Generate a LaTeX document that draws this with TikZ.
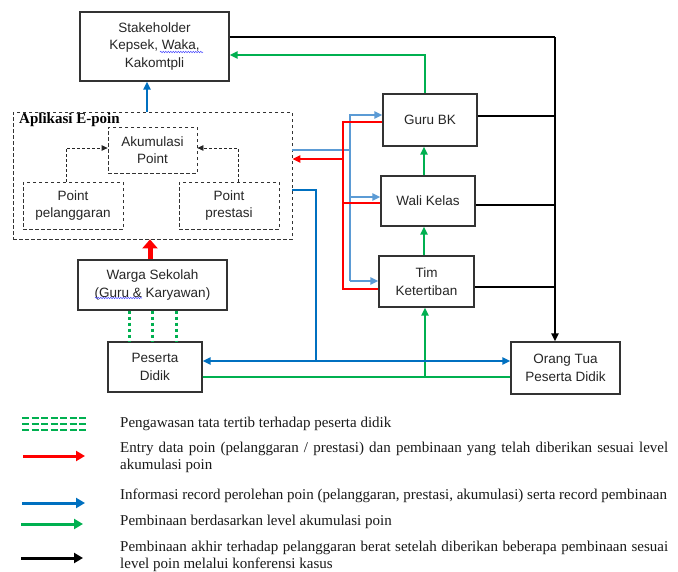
\documentclass[tikz,border=0pt]{standalone}
\usepackage{fontspec}
\setmainfont{Liberation Serif}
\newfontfamily\arialf{Liberation Sans}
\usetikzlibrary{arrows.meta,decorations.pathmorphing}
\definecolor{cblue}{HTML}{0070C0}
\definecolor{lblue}{HTML}{5B9BD5}
\definecolor{cred}{HTML}{FF0000}
\definecolor{cgreen}{HTML}{00B050}
\begin{document}
\begin{tikzpicture}[x=1pt,y=-1pt,
  box/.style={draw=black!80, line width=1.2pt, rectangle, align=center,
    font=\arialf\fontsize{13.5}{17.5}\selectfont, inner sep=0pt, text=black!85},
  dbox/.style={box, line width=0.8pt, dash pattern=on 3.5pt off 2.5pt},
  ln/.style={line width=2pt},
  arr/.style={-{Triangle[length=8pt,width=7pt]}},
  arrs/.style={{Triangle[length=8pt,width=7pt]}-{Triangle[length=8pt,width=7pt]}},
  darr/.style={black!85, line width=0.8pt, dash pattern=on 3pt off 2pt, -{Triangle[length=6pt,width=5.5pt]}},
  leg/.style={font=\fontsize{15}{17}\selectfont, inner sep=0pt, anchor=west, text=black!90},
  legarr/.style={line width=3pt, -{Triangle[length=9pt,width=10pt]}},
  squig/.style={blue!70, line width=0.5pt, decorate, decoration={snake, amplitude=0.7pt, segment length=2.5pt}}
]
\fill[white] (0,0) rectangle (678,571);
\useasboundingbox (0,0) rectangle (678,571);

% nodes
\node[box, minimum width=149pt, minimum height=69pt] (sh) at (154.5,46.5) {Stakeholder\\Kepsek, Waka,\\Kakomtpli};
\node[dbox, minimum width=279pt, minimum height=127pt] (epoin) at (152.5,175.5) {};
\node[anchor=north west, inner sep=1pt, font=\fontsize{15}{17}\selectfont\bfseries] (eplabel) at (18,112) {Aplikasi E-poin};
\node[dbox, minimum width=89pt, minimum height=46pt] (akum) at (152.5,150) {Akumulasi\\Point};
\node[dbox, minimum width=100pt, minimum height=47pt] (pel) at (73,205.5) {Point\\pelanggaran};
\node[dbox, minimum width=100pt, minimum height=47pt] (pres) at (229,205.5) {Point\\prestasi};
\node[box, minimum width=149pt, minimum height=50pt] (warga) at (152.5,285) {Warga Sekolah\\(Guru \& Karyawan)};
\node[box, minimum width=94pt, minimum height=50pt] (peserta) at (155,367) {Peserta\\Didik};
\node[box, minimum width=94pt, minimum height=52pt] (gurubk) at (430,120) {Guru BK};
\node[box, minimum width=94pt, minimum height=50pt] (wali) at (428,201) {Wali Kelas};
\node[box, minimum width=95pt, minimum height=51pt] (tim) at (426.5,281.5) {Tim\\Ketertiban};
\node[box, minimum width=109pt, minimum height=52pt] (ortu) at (565.5,368) {Orang Tua\\Peserta Didik};

% spell-check squiggles
\draw[squig] (160,52) -- (203,52);
\draw[squig] (95,298) -- (142,298);

% dashed arrows inside E-poin
\draw[darr] (pel.north -| 66,0) |- (akum.west |- 0,148);
\draw[darr] (pres.north -| 238,0) |- (akum.east |- 0,148);

% black lines
\coordinate (bx) at (555,37);
\draw[ln, black] (sh.east |- bx) -- (bx);
\draw[ln, black, arr] (bx) -- (bx |- ortu.north);
\draw[ln, black] (gurubk.east |- 0,116) -- (bx |- 0,116);
\draw[ln, black] (wali.east |- 0,205) -- (bx |- 0,205);
\draw[ln, black] (tim.east |- 0,287) -- (bx |- 0,287);

% green lines
\draw[ln, cgreen, arr] (gurubk.north -| 425,0) |- (sh.east |- 0,55);
\draw[ln, cgreen, arr] (wali.north -| 424,0) -- (gurubk.south -| 424,0);
\draw[ln, cgreen, arr] (tim.north -| 424,0) -- (wali.south -| 424,0);
\draw[ln, cgreen] (peserta.east |- 0,377) -- (ortu.west |- 0,377);
\draw[ln, cgreen, arr] (425,377) -- (tim.south -| 425,0);

% dark blue lines
\draw[ln, cblue, arr] (epoin.north -| 147,0) -- (sh.south -| 147,0);
\draw[ln, cblue] (epoin.east |- 0,190) -| (316,361);
\draw[ln, cblue, arrs] (peserta.east |- 0,361) -- (ortu.west |- 0,361);

% light blue lines
\draw[ln, lblue] (epoin.east |- 0,150) -- (350,150);
\draw[ln, lblue, arr] (350,281) |- (gurubk.west |- 0,115);
\draw[ln, lblue, arr] (350,197) -- (wali.west |- 0,197);
\draw[ln, lblue, arr] (350,281) -- (tim.west |- 0,281);

% red lines
\draw[ln, cred] (gurubk.west |- 0,122) -| (343,289) -- (tim.west |- 0,289);
\draw[ln, cred] (wali.west |- 0,203) -- (343,203);
\draw[ln, cred, arr] (343,159) -- (epoin.east |- 0,159);
\draw[cred, line width=5pt, -{Triangle[length=9pt,width=15pt]}] (warga.north -| 150,0) -- (epoin.south -| 150,0);

% green dotted supervision
\foreach \xx in {129,152,176}
  \draw[cgreen, line width=3pt, dash pattern=on 3pt off 3pt] (warga.south -| \xx,0) -- (peserta.north -| \xx,0);

% legend
\foreach \yy in {418,424,430}
  \draw[cgreen, line width=2pt, dash pattern=on 7pt off 2.5pt] (22,\yy) -- (87,\yy);
\node[leg] (l1) at (120,424) {Pengawasan tata tertib terhadap peserta didik};
\draw[legarr, cred] (23,456) -- (85,456);
\node[leg, text width=548pt, align=justify] (l2) at (120,457.5) {Entry data poin (pelanggaran / prestasi) dan pembinaan yang telah diberikan sesuai level akumulasi poin};
\draw[legarr, cblue] (22,503) -- (85,503);
\node[leg] (l3) at (120,496) {Informasi record perolehan poin (pelanggaran, prestasi, akumulasi) serta record pembinaan};
\draw[legarr, cgreen] (21,524) -- (83,524);
\node[leg] (l4) at (120,522) {Pembinaan berdasarkan level akumulasi poin};
\draw[legarr, black] (21,558) -- (83,558);
\node[leg, text width=548pt, align=justify] (l5) at (120,556) {Pembinaan akhir terhadap pelanggaran berat setelah diberikan beberapa pembinaan sesuai level poin melalui konferensi kasus};
\end{tikzpicture}
\end{document}
